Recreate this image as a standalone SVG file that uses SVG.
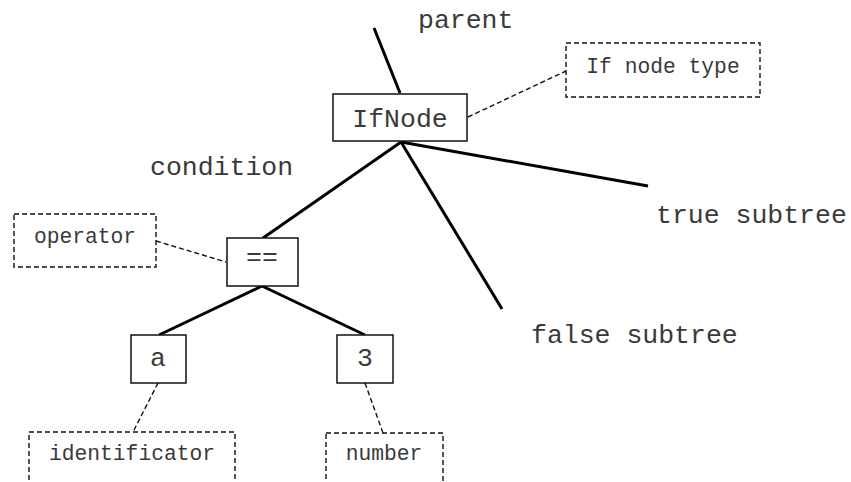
<svg xmlns="http://www.w3.org/2000/svg" width="851" height="482" viewBox="0 0 851 482">
  <style>
    .edge { stroke: #000; stroke-width: 3; fill: none; stroke-linecap: butt; }
    .note-link { stroke: #111; stroke-width: 1.4; stroke-dasharray: 5 3; fill: none; }
    .node rect { fill: #fff; stroke: #111; stroke-width: 1.5; }
    .note rect { fill: #fff; stroke: #111; stroke-width: 1.4; stroke-dasharray: 5 3; }
    text { font-family: "Liberation Mono", "Courier New", monospace; fill: #3a3a3a; }
    .big { font-size: 26.5px; }
    .small { font-size: 21.3px; }
    .mid { text-anchor: middle; }
  </style>

  <!-- tree edges and dashed note links -->
  <g id="connectors">
    <line class="edge" x1="374" y1="28" x2="400" y2="93"/>
    <line class="edge" x1="401" y1="142" x2="263" y2="238"/>
    <line class="edge" x1="401" y1="142" x2="648" y2="186"/>
    <line class="edge" x1="401" y1="142" x2="502" y2="309"/>
    <line class="edge" x1="262" y1="286" x2="159" y2="335"/>
    <line class="edge" x1="262" y1="286" x2="365" y2="335"/>
    <line class="note-link" x1="468" y1="117" x2="566" y2="71"/>
    <line class="note-link" x1="156" y1="241" x2="226" y2="262"/>
    <line class="note-link" x1="158" y1="383" x2="133" y2="432"/>
    <line class="note-link" x1="365" y1="383" x2="383" y2="433"/>
  </g>

  <!-- free labels on edges -->
  <g id="edge-labels">
    <text class="big" x="418" y="28">parent</text>
    <text class="big" x="150" y="175">condition</text>
    <text class="big" x="656" y="223">true subtree</text>
    <text class="big" x="531" y="343">false subtree</text>
  </g>

  <g id="ifnode" class="node">
    <rect x="333" y="94" width="134" height="47"/>
    <text class="big mid" x="400" y="127">IfNode</text>
  </g>

  <g id="eq" class="node">
    <rect x="227" y="238" width="71" height="48"/>
    <text class="big mid" x="262" y="265">==</text>
  </g>

  <g id="ident-a" class="node">
    <rect x="131" y="335" width="55" height="48"/>
    <text class="big mid" x="158" y="366">a</text>
  </g>

  <g id="num-3" class="node">
    <rect x="337" y="335" width="56" height="48"/>
    <text class="big mid" x="365" y="366">3</text>
  </g>

  <g id="note-iftype" class="note">
    <rect x="566" y="43" width="194" height="54"/>
    <text class="small mid" x="663" y="73">If node type</text>
  </g>

  <g id="note-operator" class="note">
    <rect x="14" y="214" width="142" height="53"/>
    <text class="small mid" x="85" y="243">operator</text>
  </g>

  <g id="note-identificator" class="note">
    <rect x="29" y="432" width="206" height="70"/>
    <text class="small mid" x="132" y="460">identificator</text>
  </g>

  <g id="note-number" class="note">
    <rect x="326" y="433" width="117" height="70"/>
    <text class="small mid" x="384" y="460">number</text>
  </g>
</svg>
